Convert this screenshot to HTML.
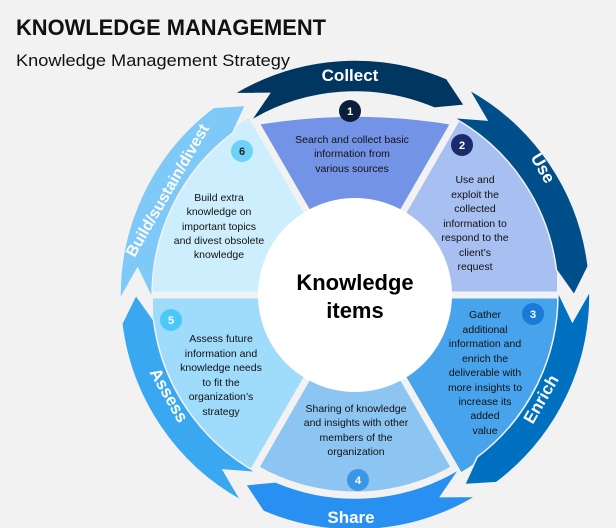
<!DOCTYPE html>
<html><head><meta charset="utf-8"><style>
html,body{margin:0;padding:0;background:#f2f2f2;}
svg{display:block;font-family:"Liberation Sans",Arial,sans-serif;}
</style></head><body>
<svg width="616" height="528" viewBox="0 0 616 528" xmlns="http://www.w3.org/2000/svg">
<rect width="616" height="528" fill="#f2f2f2"/>
<text x="16" y="35" font-size="22.5" font-weight="bold" fill="#111" textLength="310" lengthAdjust="spacingAndGlyphs">KNOWLEDGE MANAGEMENT</text>
<text x="16" y="66" font-size="17" fill="#111" textLength="274" lengthAdjust="spacingAndGlyphs">Knowledge Management Strategy</text>
<defs>
<clipPath id="cl"><rect x="153" y="100" width="404" height="400"/></clipPath>
</defs>
<g clip-path="url(#cl)" stroke="#f2f2f2" stroke-width="7" stroke-linejoin="round">
<path d="M355,295 L255,121.8 A600,600 0 0 1 455,121.8 Z" fill="#7393e6"/>
<path d="M355,295 L460,113.1 A210,210 0 0 1 565,295 Z" fill="#a8bff2"/>
<path d="M355,295 L565,295 A210,210 0 0 1 460,476.9 Z" fill="#46a3ec"/>
<path d="M355,295 L455,468.2 A200,200 0 0 1 255,468.2 Z" fill="#8cc4f2"/>
<path d="M355,295 L250,476.9 A210,210 0 0 1 145,295 Z" fill="#9fdcfb"/>
<path d="M355,295 L145,295 A210,210 0 0 1 250,113.1 Z" fill="#cdeefc"/>
</g>
<circle cx="355" cy="295" r="97" fill="#fff"/>
<g stroke="#f2f2f2" stroke-width="1.5">
<path d="M234.0,93.6 A235,235 0 0 1 446.8,78.7 L464.5,105.3 L434.3,108.1 A203,203 0 0 0 250.5,121.0 L269.4,93.4 Z" fill="#003660"/>
<path transform="rotate(60 355 295)" d="M234.0,93.6 A235,235 0 0 1 446.8,78.7 L464.5,105.3 L434.3,108.1 A203,203 0 0 0 250.5,121.0 L269.4,93.4 Z" fill="#004f8a"/>
<path transform="rotate(120 355 295)" d="M234.0,93.6 A235,235 0 0 1 446.8,78.7 L464.5,105.3 L434.3,108.1 A203,203 0 0 0 250.5,121.0 L269.4,93.4 Z" fill="#0070c0"/>
<path transform="rotate(180 355 295)" d="M234.0,93.6 A235,235 0 0 1 446.8,78.7 L464.5,105.3 L434.3,108.1 A203,203 0 0 0 250.5,121.0 L269.4,93.4 Z" fill="#2890f0"/>
<path transform="rotate(240 355 295)" d="M234.0,93.6 A235,235 0 0 1 446.8,78.7 L464.5,105.3 L434.3,108.1 A203,203 0 0 0 250.5,121.0 L269.4,93.4 Z" fill="#3aa8f0"/>
<path transform="rotate(300 355 295)" d="M234.0,93.6 A235,235 0 0 1 446.8,78.7 L464.5,105.3 L434.3,108.1 A203,203 0 0 0 250.5,121.0 L269.4,93.4 Z" fill="#7ec9f7"/>
</g>
<g fill="#fff" font-size="17" font-weight="bold" text-anchor="middle">
<text x="350" y="81">Collect</text>
<text transform="translate(538,171) rotate(60)">Use</text>
<text transform="translate(546,402) rotate(-60)">Enrich</text>
<text x="351" y="523">Share</text>
<text transform="translate(164,398) rotate(60)">Assess</text>
<text transform="translate(172,193) rotate(-60)" font-size="16" textLength="150" lengthAdjust="spacingAndGlyphs">Build/sustain/divest</text>
</g>
<g font-size="11" fill="#fff" font-weight="bold" text-anchor="middle">
<circle cx="350" cy="111" r="11" fill="#0b1f3d"/><text x="350" y="115">1</text>
<circle cx="462" cy="145" r="11" fill="#1b2a6b"/><text x="462" y="149">2</text>
<circle cx="533" cy="314" r="11" fill="#1a7ad8"/><text x="533" y="318">3</text>
<circle cx="358" cy="480" r="11" fill="#3a96e6"/><text x="358" y="484">4</text>
<circle cx="171" cy="320" r="11" fill="#4cc8f8"/><text x="171" y="324">5</text>
<circle cx="242" cy="151" r="11" fill="#6fd0f8"/><text x="242" y="155" fill="#222">6</text>
</g>
<g font-size="10.5" fill="#111" text-anchor="middle">
<text x="352" y="143">Search and collect basic</text>
<text x="352" y="157">information from</text>
<text x="352" y="172">various sources</text>
<text x="475" y="183">Use and</text><text x="475" y="198">exploit the</text><text x="475" y="212">collected</text><text x="475" y="227">information to</text><text x="475" y="241">respond to the</text><text x="475" y="256">client’s</text><text x="475" y="270">request</text>
<text x="485" y="318">Gather</text><text x="485" y="333">additional</text><text x="485" y="347">information and</text><text x="485" y="362">enrich the</text><text x="485" y="376">deliverable with</text><text x="485" y="391">more insights to</text><text x="485" y="405">increase its</text><text x="485" y="419">added</text><text x="485" y="434">value</text>
<text x="356" y="412">Sharing of knowledge</text><text x="356" y="426">and insights with other</text><text x="356" y="441">members of the</text><text x="356" y="455">organization</text>
<text x="221" y="342">Assess future</text><text x="221" y="357">information and</text><text x="221" y="371">knowledge needs</text><text x="221" y="386">to fit the</text><text x="221" y="400">organization’s</text><text x="221" y="415">strategy</text>
<text x="219" y="201">Build extra</text><text x="219" y="215">knowledge on</text><text x="219" y="230">important topics</text><text x="219" y="244">and divest obsolete</text><text x="219" y="258">knowledge</text>
</g>
<g font-size="22" font-weight="bold" fill="#000" text-anchor="middle">
<text x="355" y="290">Knowledge</text>
<text x="355" y="318">items</text>
</g>
</svg>
</body></html>
